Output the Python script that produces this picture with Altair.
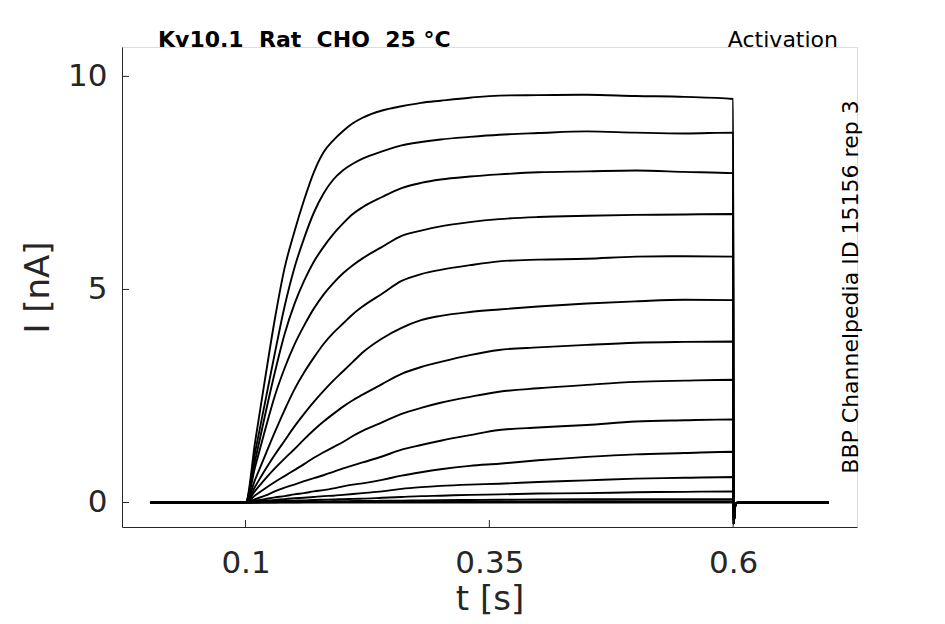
import altair as alt
import pandas as pd

# ---- data ----
t_start = 0.002
t_step = [0.1, 0.11, 0.12, 0.13, 0.14, 0.15, 0.16, 0.17, 0.18, 0.19, 0.2, 0.21,
          0.22, 0.24, 0.26, 0.28, 0.3, 0.33, 0.36, 0.4, 0.45, 0.5, 0.55, 0.6]
tail_t = [0.6004, 0.6025, 0.605, 0.698]
tail_i = [-0.5, -0.03, 0.0, 0.0]

I01 = [0, 1.45, 2.9, 4.3, 5.5, 6.35, 7.1, 7.75, 8.22, 8.5, 8.72, 8.9, 9.03, 9.2, 9.3, 9.38, 9.43, 9.5, 9.55, 9.56, 9.57, 9.54, 9.52, 9.47]
I02 = [0, 1.2, 2.35, 3.5, 4.6, 5.5, 6.2, 6.8, 7.25, 7.58, 7.8, 7.95, 8.07, 8.24, 8.38, 8.46, 8.52, 8.58, 8.63, 8.67, 8.71, 8.68, 8.66, 8.68]
I03 = [0, 1.0, 2.05, 3.05, 3.95, 4.65, 5.2, 5.65, 6.0, 6.3, 6.55, 6.77, 6.93, 7.17, 7.38, 7.5, 7.58, 7.65, 7.7, 7.75, 7.77, 7.79, 7.76, 7.73]
I04 = [0, 0.85, 1.7, 2.5, 3.15, 3.7, 4.15, 4.55, 4.88, 5.15, 5.38, 5.57, 5.73, 6.0, 6.26, 6.38, 6.48, 6.58, 6.65, 6.7, 6.73, 6.75, 6.76, 6.77]
I05 = [0, 0.55, 1.1, 1.65, 2.17, 2.65, 3.05, 3.4, 3.72, 3.98, 4.2, 4.42, 4.6, 4.9, 5.2, 5.36, 5.46, 5.57, 5.66, 5.7, 5.72, 5.77, 5.78, 5.77]
I06 = [0, 0.38, 0.76, 1.12, 1.45, 1.78, 2.08, 2.36, 2.62, 2.86, 3.08, 3.3, 3.52, 3.85, 4.1, 4.28, 4.38, 4.47, 4.53, 4.6, 4.67, 4.72, 4.76, 4.75]
I07 = [0, 0.28, 0.55, 0.8, 1.03, 1.25, 1.48, 1.7, 1.9, 2.08, 2.25, 2.4, 2.53, 2.78, 3.02, 3.18, 3.3, 3.46, 3.58, 3.64, 3.7, 3.75, 3.77, 3.78]
I08 = [0, 0.17, 0.33, 0.48, 0.62, 0.76, 0.9, 1.05, 1.18, 1.3, 1.42, 1.56, 1.68, 1.88, 2.08, 2.22, 2.34, 2.48, 2.6, 2.68, 2.76, 2.83, 2.86, 2.88]
I09 = [0, 0.08, 0.16, 0.26, 0.35, 0.42, 0.5, 0.57, 0.64, 0.72, 0.8, 0.87, 0.94, 1.08, 1.24, 1.35, 1.45, 1.58, 1.7, 1.76, 1.82, 1.9, 1.93, 1.95]
I10 = [0, 0.04, 0.08, 0.12, 0.15, 0.19, 0.22, 0.26, 0.29, 0.33, 0.38, 0.42, 0.45, 0.53, 0.63, 0.71, 0.78, 0.86, 0.91, 0.99, 1.07, 1.13, 1.16, 1.19]
I11 = [0, 0.02, 0.04, 0.06, 0.08, 0.1, 0.11, 0.13, 0.15, 0.16, 0.18, 0.2, 0.22, 0.26, 0.32, 0.36, 0.39, 0.42, 0.44, 0.48, 0.52, 0.56, 0.58, 0.6]
I12 = [0, 0.01, 0.02, 0.03, 0.04, 0.045, 0.05, 0.06, 0.065, 0.07, 0.08, 0.085, 0.09, 0.11, 0.13, 0.15, 0.16, 0.18, 0.19, 0.21, 0.22, 0.24, 0.25, 0.26]
I13 = [0, 0, 0.01, 0.01, 0.015, 0.02, 0.02, 0.025, 0.025, 0.03, 0.03, 0.035, 0.035, 0.04, 0.045, 0.05, 0.055, 0.06, 0.065, 0.07, 0.075, 0.08, 0.08, 0.08]
I14 = [0, 0, 0, 0, 0.005, 0.005, 0.01, 0.01, 0.01, 0.01, 0.015, 0.015, 0.015, 0.02, 0.02, 0.02, 0.02, 0.025, 0.025, 0.025, 0.03, 0.03, 0.03, 0.03]
I15 = [0, 0, 0, 0, 0, 0, 0, 0, 0, 0, 0, 0, 0, 0, 0, 0, 0, 0, 0, 0, 0, 0, 0, 0]

traces = [I01, I02, I03, I04, I05, I06, I07, I08, I09, I10, I11, I12, I13, I14, I15]

x_ticks = [0.1, 0.35, 0.6]
y_ticks = [0, 5, 10]
x_domain = [-0.0267, 0.727]
y_domain = [-0.575, 10.69]

title_left = "Kv10.1\u00a0\u00a0Rat\u00a0\u00a0CHO\u00a0\u00a025\u00a0°C"
title_right = "Activation"
side_text = "BBP Channelpedia ID 15156 rep 3"

# ---- build table ----
rows = []
for k, tr in enumerate(traces):
    pts = [(t_start, 0.0)] + list(zip(t_step, tr)) + list(zip(tail_t, tail_i))
    for j, (tt, ii) in enumerate(pts):
        rows.append({"trace": k, "idx": j, "t": tt, "I": ii})
df = pd.DataFrame(rows)

W, H = 735, 480
AX = "#262626"
FONT = "DejaVu Sans"

xs = alt.Scale(domain=x_domain, nice=False, zero=False)
ys = alt.Scale(domain=y_domain, nice=False, zero=False)

xaxis = alt.Axis(values=x_ticks, labelExpr="datum.value == 0.35 ? '0.35' : format(datum.value, '.1f')",
                 ticks=False, tickSize=0, grid=False, domainColor=AX, domainWidth=1,
                 labelFontSize=31, labelColor=AX, labelFont=FONT, labelBaseline="alphabetic",
                 labelPadding=45, labelFlush=False,
                 title="t [s]", titleFontSize=34, titleFontWeight="normal", titleColor=AX,
                 titleFont=FONT, titlePadding=4)
yaxis = alt.Axis(values=y_ticks, format="d", ticks=False, tickSize=0, grid=False,
                 domainColor=AX, domainWidth=1,
                 labelFontSize=31, labelColor=AX, labelFont=FONT, labelPadding=15, labelFlush=False,
                 title="I [nA]", titleFontSize=34, titleFontWeight="normal", titleColor=AX,
                 titleFont=FONT, titlePadding=12)

lines = alt.Chart(df).mark_line(color="black", strokeWidth=1.9, strokeJoin="round",
                                interpolate="monotone").encode(
    x=alt.X("t:Q", scale=xs, axis=xaxis),
    y=alt.Y("I:Q", scale=ys, axis=yaxis),
    detail="trace:N",
    order="idx:Q",
)

xt = alt.Chart(pd.DataFrame({"t": x_ticks})).mark_rule(color=AX, strokeWidth=1).encode(
    x=alt.X("t:Q", scale=xs), y=alt.value(H), y2=alt.value(H - 7))
yt = alt.Chart(pd.DataFrame({"I": y_ticks})).mark_rule(color=AX, strokeWidth=1).encode(
    y=alt.Y("I:Q", scale=ys), x=alt.value(0), x2=alt.value(7))

tl = alt.Chart(pd.DataFrame({"s": [title_left]})).mark_text(
    align="left", baseline="alphabetic", fontSize=22, fontWeight="bold", font=FONT, color="black"
).encode(x=alt.value(36), y=alt.value(0), text="s:N")
tr_ = alt.Chart(pd.DataFrame({"s": [title_right]})).mark_text(
    align="right", baseline="alphabetic", fontSize=22, font=FONT, color="black"
).encode(x=alt.value(716), y=alt.value(0), text="s:N")
side = alt.Chart(pd.DataFrame({"s": [side_text]})).mark_text(
    align="center", baseline="alphabetic", angle=270, fontSize=22, font=FONT, color="black"
).encode(x=alt.value(736), y=alt.value(240), text="s:N")

chart = alt.layer(lines, xt, yt, tl, tr_, side).properties(
    width=W, height=H,
    autosize=alt.AutoSizeParams(type="none"),
    padding={"left": 114, "top": 39, "right": 80, "bottom": 89},
    background="white",
).configure_view(stroke=None).configure(font=FONT)

chart.save("out.html", embed_options={"renderer": "svg", "actions": False})
